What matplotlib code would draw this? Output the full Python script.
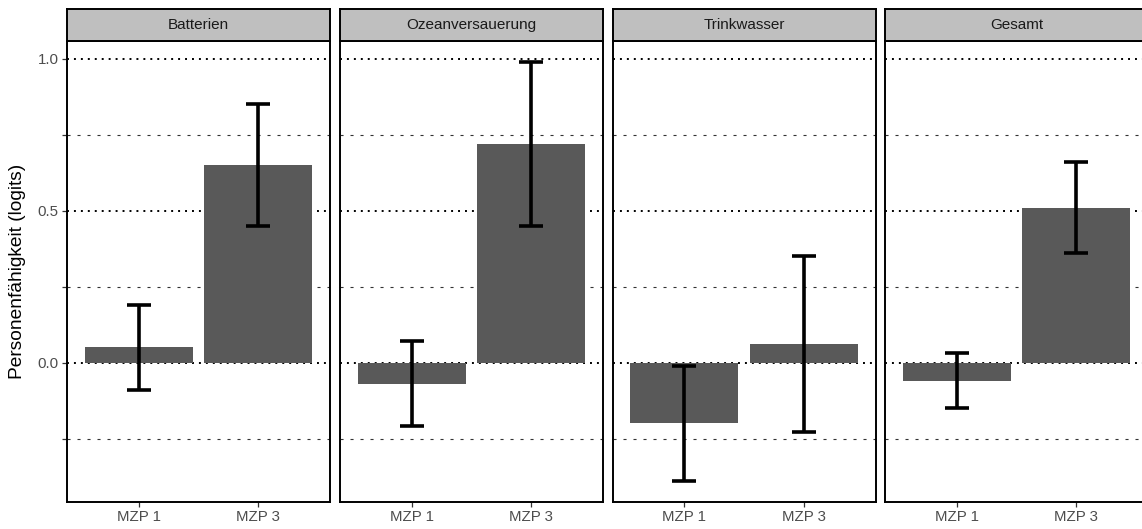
import matplotlib.pyplot as plt
from matplotlib.ticker import FixedLocator

plt.rcParams['font.family'] = ['Liberation Sans', 'DejaVu Sans']
plt.rcParams['lines.scale_dashes'] = False

# Daten
facets = ['Batterien', 'Ozeanversauerung', 'Trinkwasser', 'Gesamt']
zeitpunkte = ['MZP 1', 'MZP 3']
mittel = [[0.05, 0.65], [-0.07, 0.72], [-0.20, 0.06], [-0.06, 0.51]]
unten = [[-0.09, 0.45], [-0.21, 0.45], [-0.39, -0.23], [-0.15, 0.36]]
oben = [[0.19, 0.85], [0.07, 0.99], [-0.01, 0.35], [0.03, 0.66]]
major_y = [0.0, 0.5, 1.0]
minor_y = [-0.25, 0.25, 0.75]

W, H = 1142, 529
fig = plt.figure(figsize=(W / 100, H / 100), dpi=100)

# y-Bereich wie ggplot: 5 % Erweiterung
lo = min(min(r) for r in unten + mittel)
hi = max(max(r) for r in oben + mittel)
span = hi - lo
ylim = (lo - 0.05 * span, hi + 0.05 * span)

lefts = [67, 340, 612.5, 885]
pw = 263
top, bottom = 41, 502
strip_top = 9

x = [1, 2]
for i, name in enumerate(facets):
    ax = fig.add_axes([lefts[i] / W, (H - bottom) / H, pw / W, (bottom - top) / H])
    for g in major_y:
        ax.axhline(g, color='black', lw=1.4, ls=(0, (1.4, 3.6)), zorder=0)
    for g in minor_y:
        ax.axhline(g, color='#333333', lw=0.8, ls=(0, (2.2, 5.0)), zorder=0)
    ax.bar(x, mittel[i], width=0.9, color='#595959', zorder=2)
    ax.vlines(x, unten[i], oben[i], color='black', lw=2.6, zorder=3)
    for xi, u, o in zip(x, unten[i], oben[i]):
        ax.hlines([u, o], xi - 0.1, xi + 0.1, color='black', lw=2.6, zorder=3)
    ax.set_xlim(0.4, 2.6)
    ax.set_ylim(*ylim)
    ax.set_xticks(x)
    ax.set_xticklabels(zeitpunkte)
    ax.tick_params(axis='x', length=3.4, width=0.9, color='#333333',
                   labelcolor='#4D4D4D', labelsize=10.8, pad=2.5)
    if i == 0:
        ax.yaxis.set_major_locator(FixedLocator(major_y))
        ax.yaxis.set_minor_locator(FixedLocator(minor_y))
        ax.set_yticklabels(['0.0', '0.5', '1.0'])
        ax.tick_params(axis='y', which='both', length=3.4, width=0.9,
                       color='#333333', labelcolor='#4D4D4D',
                       labelsize=10.8, pad=2.5)
    else:
        ax.set_yticks([])
    for s in ax.spines.values():
        s.set_linewidth(1.4)
        s.set_color('black')

    sx = fig.add_axes([lefts[i] / W, (H - top) / H, pw / W, (top - strip_top) / H])
    sx.set_facecolor('#BFBFBF')
    sx.set_xticks([])
    sx.set_yticks([])
    for s in sx.spines.values():
        s.set_linewidth(1.4)
        s.set_color('black')
    sx.text(0.5, 0.5, name, ha='center', va='center', fontsize=11,
            color='#1A1A1A', transform=sx.transAxes)

fig.text(18 / W, 1 - ((top + bottom) / 2) / H, 'Personenfähigkeit (logits)',
         rotation=90, ha='center', va='center', fontsize=13.8)

fig.savefig('out.png', dpi=100)
